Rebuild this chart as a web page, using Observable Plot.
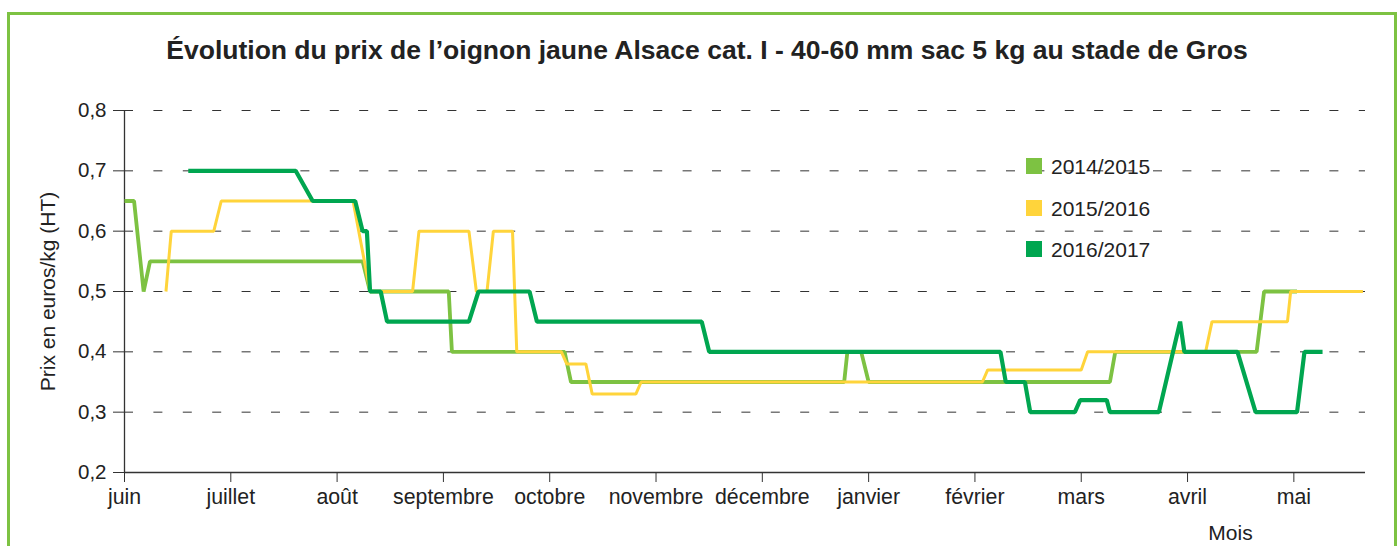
<!DOCTYPE html>
<html><head><meta charset="utf-8">
<script src="https://cdn.jsdelivr.net/npm/d3@7"></script>
<script src="https://cdn.jsdelivr.net/npm/@observablehq/plot@0.6"></script>
<style>
html,body{margin:0;padding:0;background:#fff;overflow:hidden;}
body{font-family:"Liberation Sans",Arial,sans-serif;color:#222;}
#wrap{position:relative;width:1397px;height:546px;overflow:hidden;}
#frame{position:absolute;left:7px;top:12px;width:1390px;height:600px;border:3px solid #7dc242;box-sizing:border-box;}
#title{position:absolute;left:0;width:1414px;top:34px;line-height:32px;text-align:center;font-weight:bold;font-size:26.5px;color:#222;white-space:nowrap;}
#chart{position:absolute;left:0;top:0;}
.leg{position:absolute;left:1026px;height:20px;font-size:21px;line-height:20px;white-space:nowrap;}
.leg span{display:inline-block;width:16px;height:16px;vertical-align:middle;margin-right:9px;position:relative;top:-2px;}
</style></head><body>
<div id="wrap">
  <div id="frame"></div>
  <div id="chart"></div>
  <div id="title"></div>
  <div id="legend"></div>
</div>
<script>
const titleText = "Évolution du prix de l’oignon jaune Alsace cat. I - 40-60 mm sac 5 kg au stade de Gros";
const yLabel = "Prix en euros/kg (HT)";
const xLabel = "Mois";
const months = ["juin","juillet","août","septembre","octobre","novembre","décembre","janvier","février","mars","avril","mai"];
const yTicks = [0.2,0.3,0.4,0.5,0.6,0.7,0.8];
const seasons = ["2014/2015","2015/2016","2016/2017"];
const colors = ["#7dc242","#ffd43b","#00a650"];

// x = position in months from the start of June (0 = juin, 1 = juillet, ...)
const s1415x = [0,0.09,0.18,0.24,2.24,2.31,3.05,3.08,4.14,4.20,6.77,6.80,6.93,7.00,9.27,9.32,10.65,10.72,11.03];
const s1415y = [0.65,0.65,0.50,0.55,0.55,0.50,0.50,0.40,0.40,0.35,0.35,0.40,0.40,0.35,0.35,0.40,0.40,0.50,0.50];

const s1516x = [0.39,0.44,0.84,0.91,2.15,2.31,2.71,2.77,3.24,3.31,3.41,3.47,3.65,3.69,4.11,4.16,4.34,4.40,4.81,4.86,8.07,8.12,9.00,9.06,10.17,10.23,10.94,10.97,11.65];
const s1516y = [0.50,0.60,0.60,0.65,0.65,0.50,0.50,0.60,0.60,0.50,0.50,0.60,0.60,0.40,0.40,0.38,0.38,0.33,0.33,0.35,0.35,0.37,0.37,0.40,0.40,0.45,0.45,0.50,0.50];

const s1617x = [0.60,1.61,1.77,2.17,2.24,2.28,2.31,2.41,2.47,3.24,3.33,3.81,3.88,5.43,5.50,8.24,8.29,8.47,8.52,8.94,8.99,9.24,9.27,9.73,9.93,9.97,10.47,10.64,11.03,11.10,11.27];
const s1617y = [0.70,0.70,0.65,0.65,0.60,0.60,0.50,0.50,0.45,0.45,0.50,0.50,0.45,0.45,0.40,0.40,0.35,0.35,0.30,0.30,0.32,0.32,0.30,0.30,0.45,0.40,0.40,0.30,0.30,0.40,0.40];

const toRows = (xs, ys, season) => xs.map((m, i) => ({m, v: ys[i], season}));
const r1 = toRows(s1415x, s1415y, seasons[0]);
const r2 = toRows(s1516x, s1516y, seasons[1]);
const r3 = toRows(s1617x, s1617y, seasons[2]);

document.getElementById("title").textContent = titleText;

const fmt = d => d.toFixed(1).replace(".", ",");

const chart = Plot.plot({
  width: 1397,
  height: 546,
  marginLeft: 124,
  marginRight: 32,
  marginTop: 110,
  marginBottom: 74,
  style: {fontFamily: "'Liberation Sans', Arial, sans-serif", fontSize: "20px", color: "#222", background: "transparent"},
  x: {domain: [0, 11.674]},
  y: {domain: [0.2, 0.8]},
  color: {domain: seasons, range: colors},
  marks: [
    Plot.gridY(yTicks.slice(1), {stroke: "#333", strokeOpacity: 1, strokeWidth: 1, strokeDasharray: "9,20.4"}),
    Plot.ruleY([0.2], {stroke: "#333", strokeWidth: 1.3}),
    Plot.ruleX([0], {stroke: "#333", strokeWidth: 1.3}),
    Plot.axisY({ticks: yTicks, tickFormat: fmt, tickSize: 11, tickPadding: 7, fontSize: 20.5, stroke: "#333", label: null}),
    Plot.axisX({ticks: d3.range(months.length), tickFormat: i => months[i], tickSize: 10, tickPadding: 6, fontSize: 21.3, stroke: "#333", label: null}),
    Plot.line(r1, {x: "m", y: "v", stroke: "season", strokeWidth: 3.8, strokeLinejoin: "miter", strokeLinecap: "butt"}),
    Plot.line(r2, {x: "m", y: "v", stroke: "season", strokeWidth: 3, strokeLinejoin: "miter", strokeLinecap: "butt"}),
    Plot.line(r3, {x: "m", y: "v", stroke: "season", strokeWidth: 4.2, strokeLinejoin: "miter", strokeLinecap: "butt"}),
    Plot.text([yLabel], {frameAnchor: "left", dx: -76, rotate: -90, fontSize: 21, textAnchor: "middle", lineAnchor: "middle", fill: "#222"}),
    Plot.text([xLabel], {frameAnchor: "bottom-right", dx: -135, dy: 61, fontSize: 21, textAnchor: "middle", lineAnchor: "middle", fill: "#222"})
  ]
});
document.getElementById("chart").appendChild(chart);

const legend = document.getElementById("legend");
const legTops = [157, 199, 240];
seasons.forEach((s, i) => {
  const d = document.createElement("div");
  d.className = "leg";
  d.style.top = legTops[i] + "px";
  d.innerHTML = `<span style="background:${colors[i]}"></span>${s}`;
  legend.appendChild(d);
});
</script>
</body></html>
